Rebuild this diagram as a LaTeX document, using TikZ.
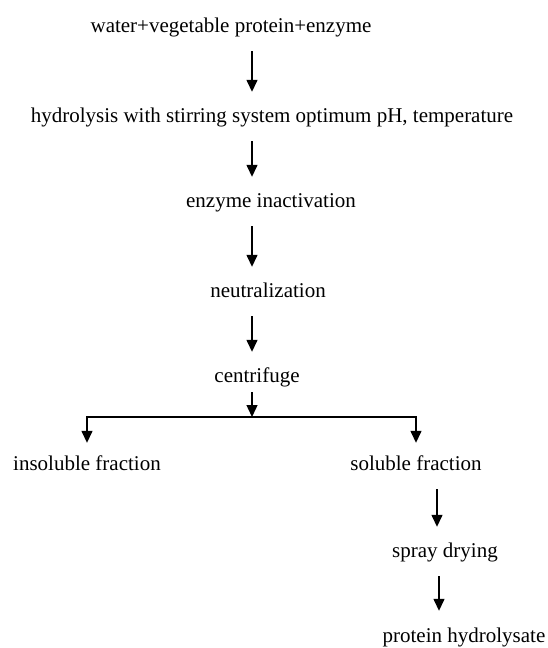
\documentclass[tikz,border=0pt]{standalone}
\usepackage{fontspec}
\setmainfont{Liberation Serif}
\usetikzlibrary{arrows.meta,positioning}
\tikzset{
  stage node/.style={inner sep=0pt,anchor=base,text height=15pt,text depth=5pt,font=\fontsize{21}{24}\selectfont},
  stage edge/.style={-{Triangle[length=12pt,width=11pt]},line width=1.4pt,shorten <=14pt,shorten >=15pt},
  split edge/.style={-{Triangle[length=12pt,width=11pt]},line width=1.4pt,shorten >=12pt},
}

\begin{document}
\begin{tikzpicture}[x=1pt,y=-1pt]
  \useasboundingbox (0,0) rectangle (547,648);
  \coordinate (spine) at (252,0);
  \node[stage node] (water) at (231,32) {water+vegetable protein+enzyme};
  \node[stage node] (hydro) at (272,122) {hydrolysis with stirring system optimum pH, temperature};
  \node[stage node] (inact) at (271,207) {enzyme inactivation};
  \node[stage node] (neutral) at (268,297) {neutralization};
  \node[stage node] (centri) at (257,382) {centrifuge};
  \node[stage node] (insol) at (87,470) {insoluble fraction};
  \node[stage node] (sol) at (416,470) {soluble fraction};
  \node[stage node] (spray) at (445,557) {spray drying};
  \node[stage node] (product) at (464,642) {protein hydrolysate};
  \coordinate (split) at (252,417);
  % main line
  \draw[stage edge] (water.south -| spine) -- (hydro.north -| spine);
  \draw[stage edge] (hydro.south -| spine) -- (inact.north -| spine);
  \draw[stage edge] (inact.south -| spine) -- (neutral.north -| spine);
  \draw[stage edge] (neutral.south -| spine) -- (centri.north -| spine);
  \draw[stage edge,shorten <=5pt,shorten >=0pt] (centri.south -| spine) -- (split);
  % two fractions
  \draw[split edge] (split) -| (insol.north);
  \draw[split edge] (split) -| (sol.north);
  \draw[stage edge] ([xshift=21pt]sol.south) -- ([xshift=-8pt]spray.north);
  \draw[stage edge,shorten >=16pt] ([xshift=-6pt]spray.south) -- ([xshift=-25pt]product.north);
\end{tikzpicture}
\end{document}
